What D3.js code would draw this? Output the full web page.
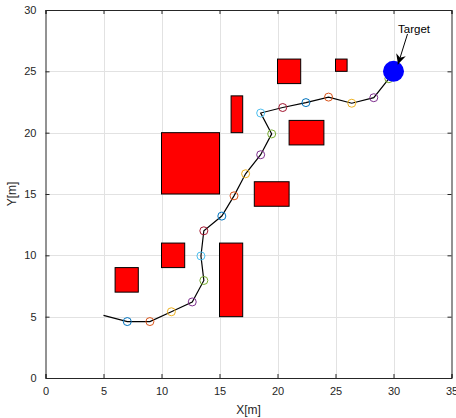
<!DOCTYPE html>
<html>
<head>
<meta charset="utf-8">
<script src="https://cdn.jsdelivr.net/npm/d3@7"></script>
<style>
html,body{margin:0;padding:0;background:#fff;}
svg{display:block;font-family:"Liberation Sans",Arial,Helvetica,sans-serif;}
</style>
</head>
<body>
<svg id="chart" width="456" height="418"></svg>
<script>
// ---- data ----
const xTicks = [0, 5, 10, 15, 20, 25, 30, 35];
const yTicks = [0, 5, 10, 15, 20, 25, 30];
// obstacles (lower-left corner, width, height)
const obsX = [6, 10, 15, 10, 16, 18, 20, 21, 25];
const obsY = [7, 9, 5, 15, 20, 14, 24, 19, 25];
const obsW = [2, 2, 2, 5, 1, 3, 2, 3, 1];
const obsH = [2, 2, 6, 5, 3, 2, 2, 2, 1];
// path
const pathX = [5, 7.05, 9.0, 10.85, 12.65, 13.65, 13.4, 13.65, 15.2, 16.25, 17.25, 18.55, 19.5, 18.55, 20.45, 22.45, 24.4, 26.4, 28.3, 29.6, 30];
const pathY = [5.1, 4.6, 4.6, 5.4, 6.2, 7.95, 9.95, 12.0, 13.2, 14.85, 16.65, 18.2, 19.9, 21.6, 22.05, 22.45, 22.9, 22.4, 22.85, 24.4, 25];
const targetX = 30, targetY = 25;
const targetLabel = "Target";
const xLabel = "X[m]", yLabel = "Y[m]";
const markerColors = ["#0072BD", "#D95319", "#EDB120", "#7E2F8E", "#77AC30", "#4DBEEE", "#A2142F"];

// ---- layout ----
const svg = d3.select("#chart");
const L = 45.5, R = 451.5, T = 10, B = 378;
const x = d3.scaleLinear().domain([0, 35]).range([L, R]);
const y = d3.scaleLinear().domain([0, 30]).range([B, T]);
const axisColor = "#262626";

// grid
const g = svg.append("g");
g.selectAll("line.gx").data(xTicks.slice(1, -1)).join("line")
  .attr("x1", d => Math.round(x(d)) + 0.5).attr("x2", d => Math.round(x(d)) + 0.5)
  .attr("y1", T).attr("y2", B).attr("stroke", "#e2e2e2").attr("stroke-width", 1);
g.selectAll("line.gy").data(yTicks.slice(1, -1)).join("line")
  .attr("y1", d => Math.round(y(d)) + 0.5).attr("y2", d => Math.round(y(d)) + 0.5)
  .attr("x1", L).attr("x2", R).attr("stroke", "#e2e2e2").attr("stroke-width", 1);

// obstacles
svg.append("g").selectAll("rect").data(obsX.map((d, i) => i)).join("rect")
  .attr("x", i => x(obsX[i]))
  .attr("y", i => y(obsY[i] + obsH[i]))
  .attr("width", i => x(obsX[i] + obsW[i]) - x(obsX[i]))
  .attr("height", i => y(obsY[i]) - y(obsY[i] + obsH[i]))
  .attr("fill", "#ff0000").attr("stroke", "#000").attr("stroke-width", 1);

// path line
const pts = pathX.map((d, i) => [pathX[i], pathY[i]]);
svg.append("path").datum(pts)
  .attr("d", d3.line().x(d => x(d[0])).y(d => y(d[1])))
  .attr("fill", "none").attr("stroke", "#000").attr("stroke-width", 1.2);

// markers (exclude start and target)
svg.append("g").selectAll("circle").data(pts.slice(1, -1)).join("circle")
  .attr("cx", d => x(d[0])).attr("cy", d => y(d[1])).attr("r", 4)
  .attr("fill", "none").attr("stroke", (d, i) => markerColors[i % markerColors.length]).attr("stroke-width", 1);

// target
svg.append("circle").attr("cx", x(targetX)).attr("cy", y(targetY)).attr("r", 10.5).attr("fill", "#0000ff");

// axes box
const ax = svg.append("g");
const xb = d3.axisBottom(x).tickValues(xTicks).tickSize(-4).tickPadding(9);
const xt = d3.axisTop(x).tickValues(xTicks).tickSize(-4).tickFormat("");
const yl = d3.axisLeft(y).tickValues(yTicks).tickSize(-4).tickPadding(9);
const yr = d3.axisRight(y).tickValues(yTicks).tickSize(-4).tickFormat("");
ax.append("g").attr("transform", `translate(0,${B})`).call(xb);
ax.append("g").attr("transform", `translate(0,${T})`).call(xt);
ax.append("g").attr("transform", `translate(${L},0)`).call(yl);
ax.append("g").attr("transform", `translate(${R},0)`).call(yr);
ax.selectAll("path.domain").attr("stroke", axisColor).attr("stroke-width", 1);
ax.selectAll(".tick line").attr("stroke", axisColor);
ax.selectAll(".tick text").attr("fill", axisColor).attr("font-size", 11).attr("font-family", "Liberation Sans, Arial, sans-serif");

// axis labels
svg.append("text").attr("x", (L + R) / 2).attr("y", 414).attr("text-anchor", "middle")
  .attr("font-size", 12).attr("fill", axisColor).text(xLabel);
svg.append("text").attr("transform", `translate(16,${(T + B) / 2}) rotate(-90)`).attr("text-anchor", "middle")
  .attr("font-size", 12).attr("fill", axisColor).text(yLabel);

// annotation arrow
const tipX = x(targetX) + 4.5, tipY = y(targetY) - 7;
const startX = 407.5, startY = 34;
svg.append("defs").append("marker").attr("id", "ah").attr("viewBox", "0 0 10 10")
  .attr("refX", 10).attr("refY", 5).attr("markerWidth", 12).attr("markerHeight", 10)
  .attr("markerUnits", "userSpaceOnUse").attr("orient", "auto")
  .append("path").attr("d", "M0,0 L10,5 L0,10 L3,5 Z").attr("fill", "#000");
svg.append("line").attr("x1", startX).attr("y1", startY).attr("x2", tipX).attr("y2", tipY)
  .attr("stroke", "#000").attr("stroke-width", 1).attr("marker-end", "url(#ah)");
svg.append("text").attr("x", 414).attr("y", 33).attr("text-anchor", "middle")
  .attr("font-size", 11.5).attr("fill", "#000").text(targetLabel);
</script>
</body>
</html>
